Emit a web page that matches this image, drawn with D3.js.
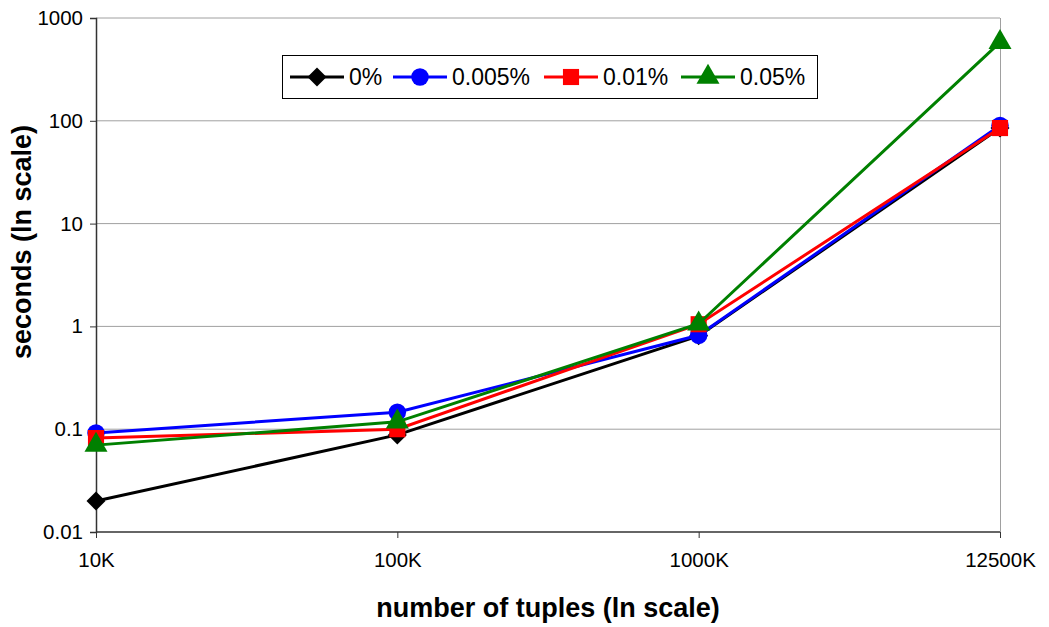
<!DOCTYPE html>
<html><head><meta charset="utf-8">
<script src="https://cdn.jsdelivr.net/npm/d3@7"></script>
<style>body{margin:0;background:#fff;} text{font-family:"Liberation Sans",Arial,sans-serif;}</style>
</head><body>
<svg id="c" width="1049" height="627"></svg>
<script>
const categories = ["10K","100K","1000K","12500K"];
const seriesNames = ["0%","0.005%","0.01%","0.05%"];
const s0 = [0.02, 0.088, 0.81, 85];
const s1 = [0.092, 0.146, 0.82, 90];
const s2 = [0.082, 0.1, 1.05, 85];
const s3 = [0.07, 0.118, 1.06, 580];
const yTicks = [0.01, 0.1, 1, 10, 100, 1000];
const colors = ["#000000","#0000ff","#ff0000","#008000"];
const shapes = [d3.symbolSquare, d3.symbolCircle, d3.symbolSquare, d3.symbolTriangle];
const rotations = [45, 0, 0, 0];
const sizes = [180, 240, 260, 230];

const series = [s0,s1,s2,s3];
const svg = d3.select("#c");
const L=96, R=1000, T=18, B=532;
const x = d3.scalePoint().domain(categories).range([L,R]);
const y = d3.scaleLog().domain([0.01,1000]).range([B,T]);

// gridlines
svg.append("g").selectAll("line").data(yTicks.slice(1)).join("line")
  .attr("x1",L).attr("x2",R).attr("y1",d=>y(d)).attr("y2",d=>y(d))
  .attr("stroke","#a0a0a0").attr("stroke-width",1);
// right border
svg.append("line").attr("x1",R+0.5).attr("x2",R+0.5).attr("y1",T).attr("y2",B).attr("stroke","#a0a0a0");

const fmt = d => (d>=1? d3.format("d")(d) : String(d));
const ya = svg.append("g").attr("transform",`translate(${L},0)`)
  .call(d3.axisLeft(y).tickValues(yTicks).tickFormat(fmt).tickSize(6).tickPadding(7));
const xa = svg.append("g").attr("transform",`translate(0,${B})`)
  .call(d3.axisBottom(x).tickSize(6).tickPadding(14));
[ya,xa].forEach(a=>{
  a.selectAll("path").attr("stroke","#333").attr("stroke-width",1.5);
  a.selectAll("line").attr("stroke","#333");
  a.selectAll("text").attr("font-size",20.5).attr("fill","#000").style("font-family","Liberation Sans, Arial, sans-serif");
});
xa.select(".domain").attr("d",`M${L},0H${R}`);

const line = d3.line().x((d,i)=>x(categories[i])).y(d=>y(d));
series.forEach((s,k)=>{
  const g = svg.append("g");
  g.append("path").datum(s).attr("d",line).attr("fill","none")
    .attr("stroke",colors[k]).attr("stroke-width",3);
  g.selectAll("path.m").data(s).join("path").attr("class","m")
    .attr("transform",(d,i)=>`translate(${x(categories[i])},${y(d)}) rotate(${rotations[k]})`)
    .attr("d",d3.symbol().type(shapes[k]).size(sizes[k]))
    .attr("fill",colors[k]);
});

// legend
const lg = svg.append("g");
lg.append("rect").attr("x",282.5).attr("y",55.5).attr("width",535).attr("height",43)
  .attr("fill","#fff").attr("stroke","#000").attr("stroke-width",1);
const lx = [290, 393, 544, 681];
const ly = 77;
seriesNames.forEach((n,k)=>{
  lg.append("line").attr("x1",lx[k]).attr("x2",lx[k]+54).attr("y1",ly).attr("y2",ly)
    .attr("stroke",colors[k]).attr("stroke-width",3);
  lg.append("path").attr("transform",`translate(${lx[k]+27},${ly}) rotate(${rotations[k]})`)
    .attr("d",d3.symbol().type(shapes[k]).size(sizes[k])).attr("fill",colors[k]);
  lg.append("text").attr("x",lx[k]+59).attr("y",ly+8).attr("font-size",23).text(n);
});

svg.append("text").attr("transform","translate(31,242) rotate(-90)").attr("text-anchor","middle")
  .attr("font-size",27).attr("font-weight","bold").text("seconds (ln scale)");
svg.append("text").attr("x",548).attr("y",617).attr("text-anchor","middle")
  .attr("font-size",27).attr("font-weight","bold").text("number of tuples (ln scale)");
</script>
</body></html>
